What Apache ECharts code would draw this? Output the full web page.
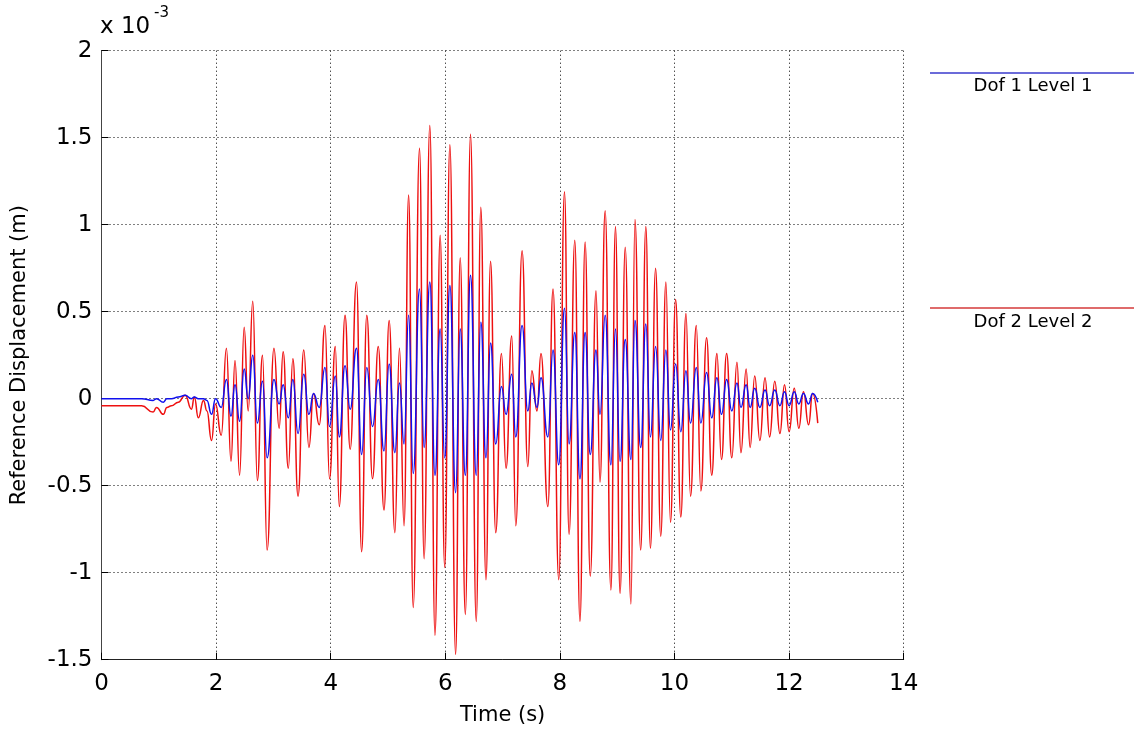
<!DOCTYPE html>
<html>
<head>
<meta charset="utf-8">
<script src="https://cdn.jsdelivr.net/npm/echarts@6/dist/echarts.min.js"></script>
<style>
html,body{margin:0;padding:0;background:#fff;}
#chart{width:1134px;height:733px;}
</style>
</head>
<body>
<div id="chart"></div>
<script>
// Time (s) of each read-off sample (extremes of the oscillation)
const time = [0, 0.70, 0.90, 0.96, 1.08, 1.14, 1.22, 1.34, 1.46, 1.57, 1.62, 1.69, 1.78, 1.84, 1.92, 1.99, 2.09, 2.18, 2.26,
  2.33, 2.41, 2.49, 2.56, 2.64, 2.72, 2.81, 2.89, 3.01, 3.10, 3.17, 3.26, 3.34, 3.43, 3.53, 3.62, 3.70, 3.80, 3.90, 3.98, 4.08, 4.15, 4.25, 4.34, 4.45, 4.54,
  4.63, 4.73, 4.83, 4.93, 5.02, 5.12, 5.20, 5.28, 5.36, 5.44, 5.55, 5.63, 5.73, 5.82, 5.91, 5.99, 6.08, 6.18, 6.26, 6.35, 6.44, 6.54, 6.62, 6.71, 6.79, 6.88,
  6.98, 7.06, 7.16, 7.23, 7.34, 7.44, 7.51, 7.60, 7.67, 7.79, 7.88, 7.98, 8.08, 8.16, 8.26, 8.35, 8.44, 8.53, 8.63, 8.70, 8.79, 8.89, 8.97, 9.05,
  9.14, 9.24, 9.31, 9.41, 9.50, 9.58, 9.67, 9.76, 9.85, 9.93, 10.02, 10.11, 10.20, 10.28, 10.38, 10.46, 10.56, 10.65, 10.74, 10.82, 10.91, 11.00, 11.09, 11.16, 11.25, 11.32,
  11.40, 11.49, 11.58, 11.66, 11.75, 11.84, 11.92, 12.00, 12.09, 12.17, 12.25, 12.34, 12.41, 12.50];

// Dof 1 Level 1 displacement (x 10^-3 m)
const dof1 = [0, 0, -0.01, 0, -0.02, 0, 0, 0.01, 0.02, 0.0, 0.01, 0.0, 0.0, -0.01, -0.09, 0.0, -0.05, 0.11, -0.10,
  0.08, -0.13, 0.17, 0.0, 0.25, -0.14, 0.10, -0.34, 0.11, -0.03, 0.08, -0.11, 0.11, -0.20, 0.14, -0.09, 0.03, -0.05, 0.18, -0.16, 0.13, -0.22, 0.19, -0.06, 0.29, -0.32,
  0.18, -0.16, 0.11, -0.30, 0.20, -0.31, 0.09, -0.26, 0.48, -0.43, 0.63, -0.28, 0.67, -0.44, 0.40, -0.34, 0.65, -0.54, 0.40, -0.44, 0.71, -0.44, 0.44, -0.34, 0.32, -0.26,
  0.07, -0.09, 0.14, -0.22, 0.42, -0.07, 0.09, -0.05, 0.12, -0.22, 0.28, -0.38, 0.52, -0.26, 0.38, -0.46, 0.38, -0.32, 0.28, -0.09, 0.48, -0.38, 0.40, -0.36,
  0.34, -0.35, 0.45, -0.28, 0.43, -0.22, 0.30, -0.24, 0.28, -0.18, 0.20, -0.19, 0.16, -0.14, 0.18, -0.14, 0.15, -0.11, 0.12, -0.09, 0.11, -0.07, 0.09, -0.05, 0.08, -0.05,
  0.06, -0.05, 0.05, -0.04, 0.05, -0.04, 0.04, -0.04, 0.04, -0.03, 0.03, -0.03, 0.03, -0.02];

// Dof 2 Level 2 displacement (x 10^-3 m)
const dof2 = [-0.04, -0.04, -0.077, -0.05, -0.09, -0.05, -0.04, -0.02, 0.02, -0.06, 0.01, -0.11, -0.01, -0.07, -0.24, -0.03, -0.21, 0.29, -0.36,
  0.22, -0.44, 0.41, -0.07, 0.56, -0.47, 0.25, -0.87, 0.29, -0.17, 0.27, -0.40, 0.23, -0.56, 0.28, -0.28, 0.03, -0.15, 0.42, -0.46, 0.30, -0.62, 0.48, -0.29, 0.67, -0.88,
  0.48, -0.46, 0.30, -0.64, 0.45, -0.77, 0.29, -0.73, 1.17, -1.20, 1.44, -0.92, 1.57, -1.36, 0.94, -0.97, 1.46, -1.47, 0.81, -1.24, 1.52, -1.28, 1.10, -1.04, 0.79, -0.77,
  0.26, -0.40, 0.36, -0.73, 0.85, -0.39, 0.16, -0.07, 0.26, -0.62, 0.63, -1.04, 1.19, -0.78, 0.91, -1.28, 0.90, -1.02, 0.62, -0.48, 1.08, -1.10, 0.99, -1.12,
  0.87, -1.18, 1.03, -0.87, 0.99, -0.86, 0.75, -0.79, 0.67, -0.71, 0.57, -0.68, 0.49, -0.56, 0.42, -0.53, 0.35, -0.44, 0.26, -0.35, 0.26, -0.34, 0.21, -0.31, 0.17, -0.28,
  0.13, -0.24, 0.12, -0.22, 0.10, -0.20, 0.08, -0.19, 0.06, -0.17, 0.04, -0.15, 0.03, -0.14];

const seriesNames = ['Dof 1 Level 1', 'Dof 2 Level 2'];
const xLabelName = 'Time (s)';
const yLabelName = 'Reference Displacement (m)';

const FONT = '"DejaVu Sans", "Liberation Sans", Arial, sans-serif';
const pairs = (vals) => time.map((t, i) => [t, vals[i]]);

const chart = echarts.init(document.getElementById('chart'), null, {renderer: 'canvas'});
const gridLeft = 101.5, gridTop = 50.7, gridW = 802.2, gridH = 609;

chart.setOption({
  animation: false,
  backgroundColor: '#ffffff',
  grid: {left: gridLeft, top: gridTop, width: gridW, height: gridH, containLabel: false},
  xAxis: {
    type: 'value', min: 0, max: 14, interval: 2,
    name: xLabelName, nameLocation: 'middle', nameGap: 45,
    nameTextStyle: {fontFamily: FONT, fontSize: 21, color: '#000'},
    axisLine: {show: true, onZero: false, lineStyle: {color: '#222', width: 1}},
    axisTick: {show: true, inside: true, length: 7, lineStyle: {color: '#000'}},
    axisLabel: {fontFamily: FONT, fontSize: 23, color: '#000', margin: 13},
    splitLine: {show: true, lineStyle: {color: '#000', type: [1, 3], width: 1}}
  },
  yAxis: {
    type: 'value', min: -1.5, max: 2, interval: 0.5,
    name: yLabelName, nameLocation: 'middle', nameGap: 71,
    nameTextStyle: {fontFamily: FONT, fontSize: 21, color: '#000'},
    axisLine: {show: true, onZero: false, lineStyle: {color: '#444', width: 1}},
    axisTick: {show: true, inside: true, length: 7, lineStyle: {color: '#000'}},
    axisLabel: {fontFamily: FONT, fontSize: 23, color: '#000', margin: 9},
    splitLine: {show: true, lineStyle: {color: '#000', type: [1, 3], width: 1}}
  },
  series: [
    {
      name: seriesNames[0], type: 'line', data: pairs(dof1), showSymbol: false, symbol: 'none',
      smooth: 0.5, smoothMonotone: 'x', z: 3,
      lineStyle: {color: '#1010ee', width: 1.5}
    },
    {
      name: seriesNames[1], type: 'line', data: pairs(dof2), showSymbol: false, symbol: 'none',
      smooth: 0.5, smoothMonotone: 'x', z: 2,
      lineStyle: {color: '#ee1010', width: 1.5}
    }
  ],
  graphic: [
    {type: 'text', left: 100, top: 16, style: {text: 'x 10', font: '23px ' + FONT, fill: '#000'}},
    {type: 'text', left: 154, top: 6, style: {text: '-3', font: '15px ' + FONT, fill: '#000'}},
    {type: 'line', shape: {x1: 930, y1: 73, x2: 1134, y2: 73}, style: {stroke: '#3a3acc', lineWidth: 1.5}},
    {type: 'text', x: 1033, y: 86, style: {text: seriesNames[0], font: '18px ' + FONT, fill: '#000', align: 'center', verticalAlign: 'middle'}},
    {type: 'line', shape: {x1: 930, y1: 308, x2: 1134, y2: 308}, style: {stroke: '#d43a3a', lineWidth: 1.5}},
    {type: 'text', x: 1033, y: 322, style: {text: seriesNames[1], font: '18px ' + FONT, fill: '#000', align: 'center', verticalAlign: 'middle'}}
  ]
});
</script>
</body>
</html>
